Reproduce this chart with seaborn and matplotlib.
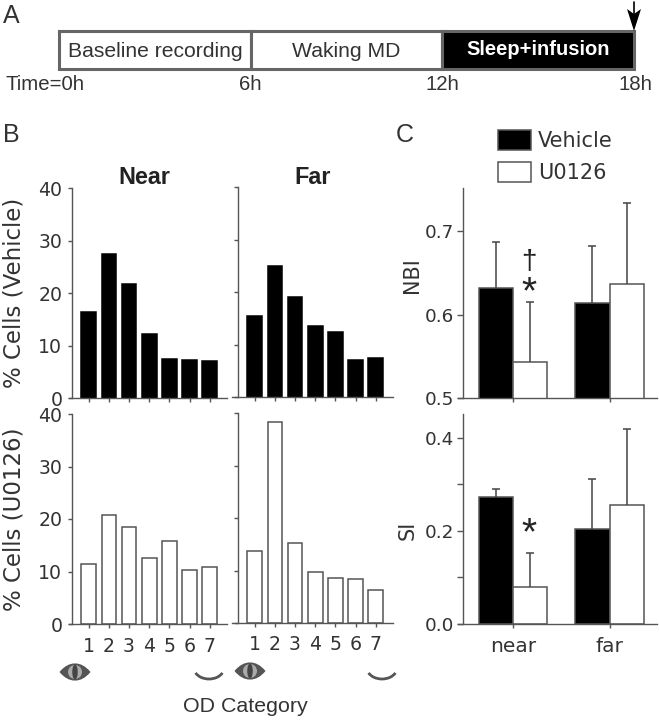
import matplotlib
matplotlib.use("Agg")
import matplotlib.pyplot as plt
import seaborn as sns
from matplotlib.patches import Polygon, Ellipse, PathPatch, Arc
from matplotlib.path import Path

W, H = 659, 720

# timeline
seg_labels = ["Baseline recording", "Waking MD", "Sleep+infusion"]
seg_starts = [0, 6, 12]
seg_hours = [6, 6, 6]
seg_colors = ["white", "white", "black"]
time_ticks = [0, 6, 12, 18]
time_labels = ["Time=0h", "6h", "12h", "18h"]

# OD histograms
od_cats = ["1", "2", "3", "4", "5", "6", "7"]
veh_near = [16.5, 27.4, 21.8, 12.3, 7.55, 7.3, 7.1]
veh_far = [15.4, 25.0, 19.2, 13.5, 12.4, 7.2, 7.55]
u0126_near = [11.4, 20.7, 18.4, 12.5, 15.75, 10.2, 10.8]
u0126_far = [13.7, 38.3, 15.2, 9.8, 8.65, 8.3, 6.2]

# NBI and SI bars
groups = ["near", "far"]
treatments = ["Vehicle", "U0126"]
nbi_veh = [0.632, 0.614]
nbi_u = [0.543, 0.637]
nbi_veh_top = [0.687, 0.682]
nbi_u_top = [0.615, 0.733]
si_veh = [0.273, 0.205]
si_u = [0.080, 0.255]
si_veh_top = [0.291, 0.311]
si_u_top = [0.152, 0.418]

sns.set_style("ticks")
plt.rcParams["font.family"] = ["Liberation Sans", "DejaVu Sans"]
GREY = "#555555"
TXT = "#333333"
SPACED = ["DejaVu Sans"]

fig = plt.figure(figsize=(W / 100, H / 100), dpi=100)


def px_axes(l, t, r, b):
    return fig.add_axes([l / W, 1 - b / H, (r - l) / W, (b - t) / H], facecolor="none")


def style_axes(ax, spine_x=None):
    sns.despine(ax=ax)
    for s in ["left", "bottom"]:
        ax.spines[s].set_color(GREY)
        ax.spines[s].set_linewidth(1.0)
    if spine_x is not None:
        ax.spines["left"].set_position(("data", spine_x))
    ax.set_xlabel("")
    ax.set_ylabel("")


def od_panel(box, values, color, spine_x, xlim, show_y, show_x, ylabel=None):
    ax = px_axes(*box)
    sns.barplot(x=od_cats, y=values, color=color, saturation=1, width=0.73,
                edgecolor=GREY if color == "white" else "black", linewidth=1.1, ax=ax)
    ax.set_xlim(*xlim)
    ax.set_ylim(0, 40)
    style_axes(ax, spine_x)
    ax.set_yticks([0, 10, 20, 30, 40])
    ax.tick_params(axis="y", length=3, width=1, color=GREY, pad=4, labelsize=13.6,
                   labelcolor=TXT, labelleft=show_y, labelfontfamily="DejaVu Sans")
    ax.tick_params(axis="x", length=3, width=1, color=GREY, pad=6, labelsize=13.6,
                   labelcolor=TXT, labelbottom=show_x, labelfontfamily="DejaVu Sans")
    if ylabel:
        ax.set_ylabel(ylabel, fontsize=16.5, color=TXT, family=SPACED, va="center")
        ax.yaxis.set_label_coords(14 / W, 1 - (box[1] + box[3]) / 2 / H, transform=fig.transFigure)
    return ax


xl_near = (-0.977, 6.857)
xl_far = (-1.125, 6.842)
od_panel((69, 188.3, 227, 398.3), veh_near, "black", -0.828, xl_near, True, False, "% Cells (Vehicle)")
od_panel((232, 187.3, 392.7, 397.3), veh_far, "black", -0.828, xl_far, False, False)
od_panel((69, 414, 227, 624), u0126_near, "white", -0.828, xl_near, True, True, "% Cells (U0126)")
od_panel((232, 413.3, 392.7, 623), u0126_far, "white", -0.828, xl_far, False, True)


def index_panel(box, veh, u, veh_top, u_top, ylim, yticks, yticklabels, ylabel, label_xy, show_x):
    ax = px_axes(*box)
    x = groups * 2
    hue = [treatments[0]] * 2 + [treatments[1]] * 2
    sns.barplot(x=x, y=veh + u, hue=hue, order=groups, hue_order=treatments,
                palette=["black", "white"], saturation=1, width=0.708, gap=0, errorbar=None,
                edgecolor=GREY, linewidth=1.1, legend=False, ax=ax)
    for cont, vals, tops in zip(ax.containers, [veh, u], [veh_top, u_top]):
        xs = [b.get_x() + b.get_width() / 2 for b in cont]
        ax.vlines(xs, vals, tops, color="#444444", lw=1.1, zorder=1)
        ax.plot(xs, tops, ls="none", marker="_", ms=6, mew=1.1, color="#444444", zorder=1)
    ax.set_xlim(-0.566, 1.487)
    ax.set_ylim(*ylim)
    style_axes(ax, -0.510)
    ax.set_yticks(yticks)
    ax.set_yticklabels(yticklabels)
    ax.tick_params(axis="y", length=4, width=1, color=GREY, pad=2.5, labelsize=13.2,
                   labelcolor=TXT, labelfontfamily="DejaVu Sans")
    ax.tick_params(axis="x", length=3, width=1, color=GREY, pad=6, labelsize=14.5,
                   labelcolor=TXT, labelbottom=show_x, labelfontfamily="DejaVu Sans")
    ax.set_ylabel(ylabel, fontsize=15, color=TXT, family=SPACED, va="center")
    ax.yaxis.set_label_coords(label_xy[0] / W, 1 - label_xy[1] / H, transform=fig.transFigure)
    return ax


ax_nbi = index_panel((458, 188, 656.7, 398.3), nbi_veh, nbi_u, nbi_veh_top, nbi_u_top,
                     (0.5, 0.751), [0.5, 0.6, 0.7], ["0.5", "0.6", "0.7"], "NBI", (412, 275), False)
ax_si = index_panel((458, 414, 656.7, 624), si_veh, si_u, si_veh_top, si_u_top,
                    (0, 0.451), [0, 0.1, 0.2, 0.3, 0.4], ["0.0", "", "0.2", "", "0.4"], "SI", (408, 530), True)

# legend sits above the NBI panel
leg_handles = [plt.Rectangle((0, 0), 1, 1, fc=c, ec=GREY, lw=1.1) for c in ["black", "white"]]
fig.legend(leg_handles, treatments, loc="upper left", bbox_to_anchor=(498 / W, 1 - 130 / H),
           frameon=False, borderpad=0, borderaxespad=0, prop={"family": "DejaVu Sans", "size": 15},
           labelcolor=TXT, handlelength=1.58, handleheight=1.1, handletextpad=0.33, labelspacing=0.5)

# timeline bar
ax_t = px_axes(59, 31, 634, 69)
ax_t.barh([0], seg_hours, left=seg_starts, height=1, color=seg_colors, edgecolor="#666666", linewidth=2.2, clip_on=False)
ax_t.set_xlim(0, 18)
ax_t.set_ylim(-0.5, 0.5)
ax_t.axis("off")
for s, d, lab, c in zip(seg_starts, seg_hours, seg_labels, seg_colors):
    white = c == "black"
    ax_t.text(s + d / 2, 0.02 if white else -0.03, lab, ha="center", va="center",
              color="white" if white else TXT, fontsize=14.5 if white else 15.2,
              fontweight="bold" if white else "normal")
for h, lab, off in zip(time_ticks, time_labels, [-14, 0, 0, 2]):
    ax_t.annotate(lab, (h, -0.5), xytext=(off, -16), textcoords="offset pixels", ha="center", va="center",
                  fontsize=14.7, color=TXT, annotation_clip=False)

# everything else placed in pixel coordinates
ov = fig.add_axes([0, 0, 1, 1], facecolor="none")
ov.set_xlim(0, W)
ov.set_ylim(H, 0)
ov.axis("off")

for lab, x, y in [("A", 11, 16), ("B", 11, 135), ("C", 405, 135)]:
    ov.text(x, y, lab, fontsize=18, color=TXT, ha="center", va="center")
ov.text(144, 178, "Near", fontsize=16.8, fontweight="bold", color="#222222", ha="center", va="center")
ov.text(313, 178, "Far", fontsize=16.8, fontweight="bold", color="#222222", ha="center", va="center")
ov.text(245, 707, "OD Category", fontsize=15.4, color=TXT, ha="center", va="center")

ov.text(529, 262, "†", fontsize=20, color="#222222", ha="center", va="center")
ov.text(529, 293, "*", fontsize=28, color="#222222", ha="center", va="center")
ov.text(529, 534, "*", fontsize=28, color="#222222", ha="center", va="center")

# arrow at 18h
ov.plot([634, 634], [2, 14], color="black", lw=1.2)
ov.add_patch(Polygon([(634, 31), (627, 9), (634, 14), (641, 9)], closed=True, fc="black", ec="none"))


def eye(cx, cy):
    w, h = 15.5, 8.5
    verts = [(cx - w, cy), (cx - w * 0.4, cy - h * 1.35), (cx + w * 0.4, cy - h * 1.35), (cx + w, cy),
             (cx + w * 0.4, cy + h * 1.35), (cx - w * 0.4, cy + h * 1.35), (cx - w, cy)]
    codes = [Path.MOVETO, Path.CURVE4, Path.CURVE4, Path.CURVE4, Path.CURVE4, Path.CURVE4, Path.CURVE4]
    ov.add_patch(PathPatch(Path(verts, codes), fc="#555555", ec="none"))
    ov.add_patch(Ellipse((cx, cy), 14, 14, fc="#aaaaaa", ec="none"))
    ov.add_patch(Ellipse((cx, cy), 5.5, 15, fc="#444444", ec="none"))


eye(75, 672)
eye(250, 671)
for cx in [209, 382]:
    ov.add_patch(Arc((cx, 668), 30, 22, theta1=20, theta2=160, color="#555555", lw=2))

fig.savefig("out.png", dpi=100)
